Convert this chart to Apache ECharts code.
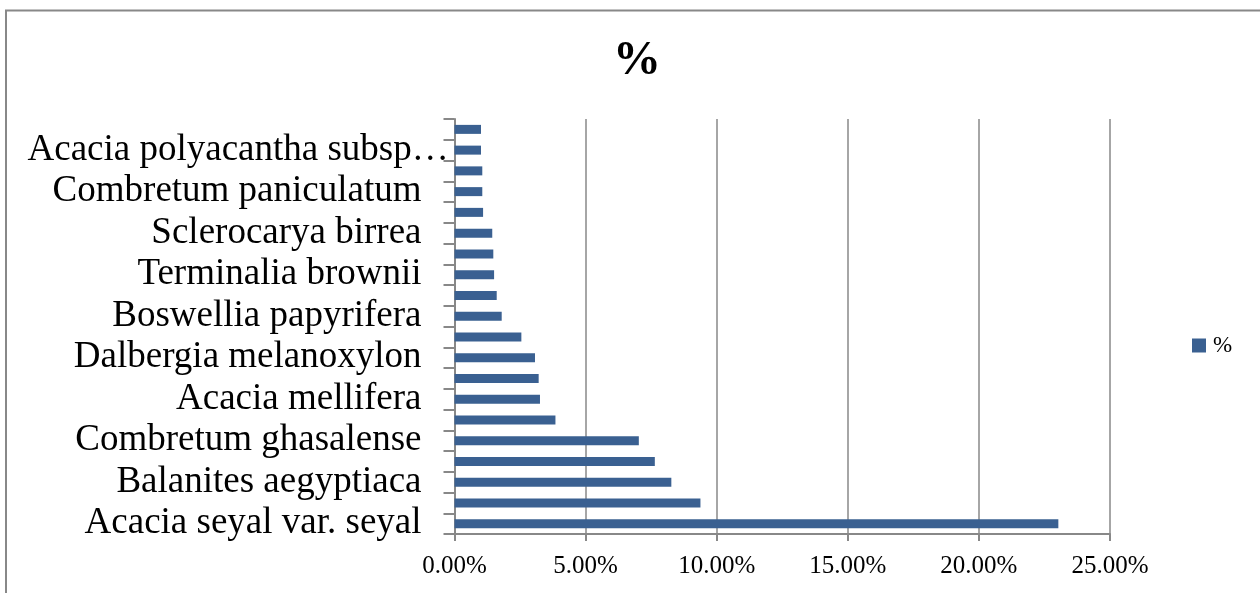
<!DOCTYPE html>
<html>
<head>
<meta charset="utf-8">
<script src="https://cdn.jsdelivr.net/npm/echarts@6/dist/echarts.min.js"></script>
<style>
html,body{margin:0;padding:0;background:#fff;}
#chart{width:1260px;height:593px;}
</style>
</head>
<body>
<div id="chart"></div>
<script>
// Categories from bottom (index 0) to top; unlabelled rows are hidden by the label interval in the original
const categories = [
  'Acacia seyal var. seyal', '(unlabelled 1)',
  'Balanites aegyptiaca', '(unlabelled 2)',
  'Combretum ghasalense', '(unlabelled 3)',
  'Acacia mellifera', '(unlabelled 4)',
  'Dalbergia melanoxylon', '(unlabelled 5)',
  'Boswellia papyrifera', '(unlabelled 6)',
  'Terminalia brownii', '(unlabelled 7)',
  'Sclerocarya birrea', '(unlabelled 8)',
  'Combretum paniculatum', '(unlabelled 9)',
  'Acacia polyacantha subsp…', '(unlabelled 10)'
];
const percentValues = [
  23.03, 9.38,
  8.27, 7.64,
  7.03, 3.85,
  3.26, 3.21,
  3.07, 2.55,
  1.80, 1.61,
  1.51, 1.48,
  1.44, 1.09,
  1.06, 1.06,
  1.01, 1.01
];
const seriesName = '%';
const chartTitle = '%';
const valueTicks = [0, 5, 10, 15, 20, 25];

const serif = "'Liberation Serif','Times New Roman',serif";
const chart = echarts.init(document.getElementById('chart'));
chart.setOption({
  animation: false,
  backgroundColor: '#fff',
  title: {
    text: chartTitle,
    left: 632,
    top: 33,
    textAlign: 'center',
    textStyle: {fontFamily: serif, fontWeight: 'bold', fontSize: 48, color: '#000'}
  },
  legend: {
    data: [seriesName],
    left: 1187,
    top: 329,
    icon: 'rect',
    itemWidth: 14,
    itemHeight: 14,
    itemGap: 6,
    textStyle: {fontFamily: serif, fontSize: 23, color: '#000', padding: [0,0,0,2]}
  },
  grid: {left: 454.5, right: 150, top: 119, bottom: 59},
  xAxis: {
    type: 'value',
    min: valueTicks[0],
    max: valueTicks[valueTicks.length - 1],
    interval: valueTicks[1] - valueTicks[0],
    axisLine: {show: true, lineStyle: {color: '#888', width: 2}},
    axisTick: {show: true, length: 7, lineStyle: {color: '#888', width: 2}},
    splitLine: {show: true, lineStyle: {color: '#888', width: 1.5}},
    axisLabel: {
      margin: 20,
      fontFamily: serif, fontSize: 25, color: '#000',
      formatter: v => v.toFixed(2) + '%'
    }
  },
  yAxis: {
    type: 'category',
    data: categories,
    axisLine: {show: true, lineStyle: {color: '#888', width: 2}},
    axisTick: {show: true, length: 11, interval: 0, lineStyle: {color: '#888', width: 2}},
    splitLine: {show: false},
    axisLabel: {
      interval: 1,
      margin: 33,
      fontFamily: serif, fontSize: 37, color: '#000',
      formatter: function (v) {
        if (v.length > 24) return '{long|' + v + '}';
        return v;
      },
      rich: {
        long: {fontFamily: serif, fontSize: 37, color: '#000', width: 394, align: 'left'}
      }
    }
  },
  series: [{
    name: seriesName,
    type: 'bar',
    data: percentValues,
    barWidth: 9,
    itemStyle: {color: '#3A6091'}
  }],
  graphic: [{
    type: 'rect',
    shape: {x: 6, y: 10.5, width: 1400, height: 800},
    style: {fill: 'none', stroke: '#888', lineWidth: 2},
    silent: true
  }]
});
</script>
</body>
</html>
